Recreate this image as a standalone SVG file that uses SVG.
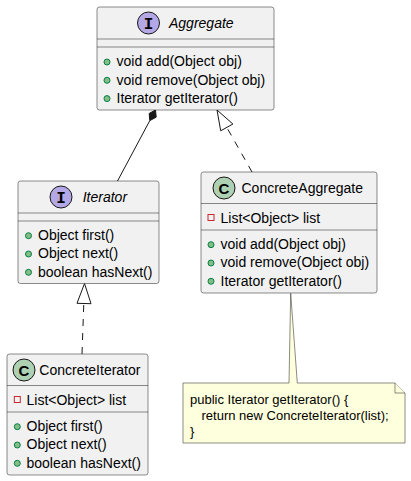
<svg xmlns="http://www.w3.org/2000/svg" width="411" height="481" viewBox="0 0 411 481">
<style>
.box{fill:#F1F1F1;stroke:#181818;stroke-width:0.5}
.div{stroke:#181818;stroke-width:0.5}
.t{font-family:"Liberation Sans",Arial,sans-serif;font-size:14px;fill:#000000}
.ti{font-family:"Liberation Sans",Arial,sans-serif;font-size:14px;font-style:italic;fill:#000000}
.ci{fill:#B4A7E5;stroke:#181818;stroke-width:1}
.cc{fill:#ADD1B2;stroke:#181818;stroke-width:1}
.sym{font-family:"Liberation Mono",monospace;font-size:16px;font-weight:bold;fill:#000000;text-anchor:middle}
.symc{font-family:"Liberation Sans",Arial,sans-serif;font-size:15px;font-weight:bold;fill:#000000;text-anchor:middle}
.pub{fill:#84BE84;stroke:#038048;stroke-width:1}
.priv{fill:none;stroke:#C82930;stroke-width:1}
.ln{stroke:#181818;stroke-width:1;fill:none}
.dash{stroke:#181818;stroke-width:1;fill:none;stroke-dasharray:7,7}
.head{fill:#FFFFFF;stroke:#181818;stroke-width:1}
.note{fill:#FEFFDD;stroke:#181818;stroke-width:0.5}
.nt{font-family:"Liberation Sans",Arial,sans-serif;font-size:13px;fill:#000000}
</style>
<rect x="0" y="0" width="411" height="481" fill="#FFFFFF"/>

<g id="connectors">
  <line class="ln" x1="117.5" y1="181" x2="149.8" y2="120.6"/>
  <polygon points="155.5,110 156.2,117.2 149.8,120.6 149.2,113.4" fill="#181818" stroke="#181818" stroke-width="1"/>
  <line class="dash" x1="252" y1="172" x2="226.8" y2="127.4"/>
  <polygon class="head" points="217,110 232.9,124 220.7,130.8"/>
  <line class="dash" x1="82" y1="354" x2="83.8" y2="303.5"/>
  <polygon class="head" points="84.5,283.5 91,303.7 77,303.3"/>
</g>

<g id="Aggregate">
  <rect class="box" x="97" y="7" width="177" height="103" rx="2.5" ry="2.5"/>
  <circle class="ci" cx="148.5" cy="23" r="11"/>
  <text class="sym" x="148.5" y="28.5">I</text>
  <text class="ti" x="169" y="28">Aggregate</text>
  <line class="div" x1="97" y1="39" x2="274" y2="39"/>
  <line class="div" x1="97" y1="47" x2="274" y2="47"/>
  <circle class="pub" cx="107" cy="62" r="3"/>
  <text class="t" x="116.5" y="66.3">void add(Object obj)</text>
  <circle class="pub" cx="107" cy="80.3" r="3"/>
  <text class="t" x="116.5" y="84.6">void remove(Object obj)</text>
  <circle class="pub" cx="107" cy="98.6" r="3"/>
  <text class="t" x="116.5" y="102.9">Iterator getIterator()</text>
</g>

<g id="Iterator">
  <rect class="box" x="18" y="181" width="141" height="102.5" rx="2.5" ry="2.5"/>
  <circle class="ci" cx="61" cy="197" r="11"/>
  <text class="sym" x="61" y="202.5">I</text>
  <text class="ti" x="82.7" y="202">Iterator</text>
  <line class="div" x1="18" y1="213" x2="159" y2="213"/>
  <line class="div" x1="18" y1="221" x2="159" y2="221"/>
  <circle class="pub" cx="28.5" cy="235.7" r="3"/>
  <text class="t" x="38" y="240">Object first()</text>
  <circle class="pub" cx="28.5" cy="254" r="3"/>
  <text class="t" x="38" y="258.3">Object next()</text>
  <circle class="pub" cx="28.5" cy="272.3" r="3"/>
  <text class="t" x="38" y="276.6">boolean hasNext()</text>
</g>

<g id="ConcreteAggregate">
  <rect class="box" x="201" y="172" width="176" height="121" rx="2.5" ry="2.5"/>
  <circle class="cc" cx="224" cy="188" r="11"/>
  <text class="symc" x="224" y="193.5">C</text>
  <text class="t" x="241.5" y="192.8">ConcreteAggregate</text>
  <line class="div" x1="201" y1="203.5" x2="377" y2="203.5"/>
  <rect class="priv" x="208" y="214.5" width="6" height="6"/>
  <text class="t" x="220.5" y="222.5">List&lt;Object&gt; list</text>
  <line class="div" x1="201" y1="230" x2="377" y2="230"/>
  <circle class="pub" cx="211" cy="244.7" r="3"/>
  <text class="t" x="220.5" y="249">void add(Object obj)</text>
  <circle class="pub" cx="211" cy="263" r="3"/>
  <text class="t" x="220.5" y="267.3">void remove(Object obj)</text>
  <circle class="pub" cx="211" cy="281.3" r="3"/>
  <text class="t" x="220.5" y="285.6">Iterator getIterator()</text>
</g>

<g id="ConcreteIterator">
  <rect class="box" x="7" y="354" width="141" height="121" rx="2.5" ry="2.5"/>
  <circle class="cc" cx="24" cy="370" r="11"/>
  <text class="symc" x="24" y="375.5">C</text>
  <text class="t" x="39.3" y="374.8">ConcreteIterator</text>
  <line class="div" x1="7" y1="385.5" x2="148" y2="385.5"/>
  <rect class="priv" x="14.3" y="396.5" width="6" height="6"/>
  <text class="t" x="26.5" y="404.5">List&lt;Object&gt; list</text>
  <line class="div" x1="7" y1="412" x2="148" y2="412"/>
  <circle class="pub" cx="17.3" cy="426.7" r="3"/>
  <text class="t" x="26.5" y="431">Object first()</text>
  <circle class="pub" cx="17.3" cy="445" r="3"/>
  <text class="t" x="26.5" y="449.3">Object next()</text>
  <circle class="pub" cx="17.3" cy="463.3" r="3"/>
  <text class="t" x="26.5" y="467.6">boolean hasNext()</text>
</g>

<g id="note">
  <path class="note" d="M183,383 L289,383 L290.7,293.3 L297.3,383 L395,383 L405,393 L405,443 L183,443 Z"/>
  <path class="note" d="M395,383 L395,393 L405,393"/>
  <text class="nt" x="190" y="403.5">public Iterator getIterator() {</text>
  <text class="nt" x="201.5" y="420">return new ConcreteIterator(list);</text>
  <text class="nt" x="190" y="436">}</text>
</g>
</svg>
